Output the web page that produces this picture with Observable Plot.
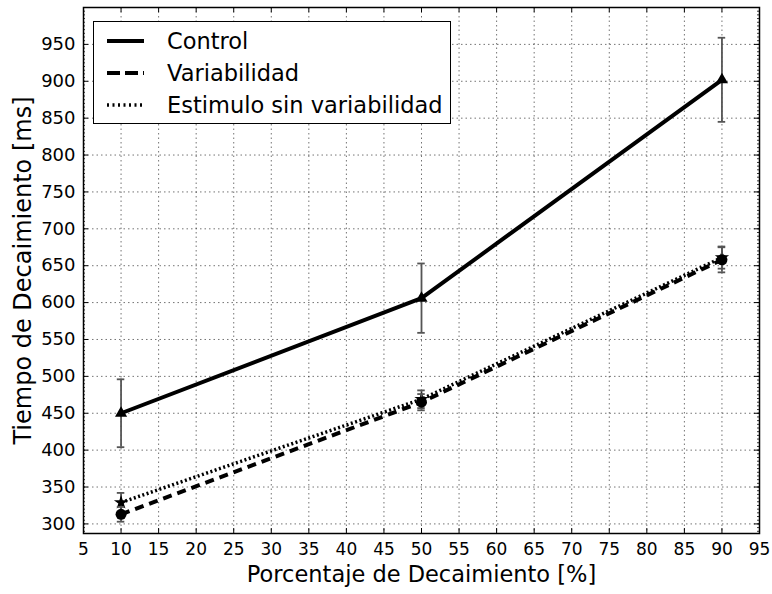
<!DOCTYPE html>
<html>
<head>
<meta charset="utf-8">
<script src="https://cdn.jsdelivr.net/npm/d3@7"></script>
<script src="https://cdn.jsdelivr.net/npm/@observablehq/plot@0.6"></script>
<style>
  html, body { margin: 0; padding: 0; background: #fff; }
  #wrap { position: relative; width: 772px; height: 594px; font-family: "DejaVu Sans", sans-serif; }
  #wrap svg { display: block; }
  g[aria-label="x-axis label"] text { font-size: 22.5px; }
  g[aria-label="y-axis label"] text { font-size: 24px; }
  #legend {
    position: absolute; left: 93px; top: 21px; width: 358px; height: 103px;
    border: 1.5px solid #000; background: #fff; box-sizing: border-box;
    font-size: 22.5px; color: #000;
  }
  #legend .row { position: absolute; left: 0; height: 30px; display: flex; align-items: center; }
  #legend svg { margin-left: 13px; margin-right: 23px; }
</style>
</head>
<body>
<div id="wrap"></div>
<script>
// Decay percentage (x) and decay times in ms with their error bars
const porcentaje = [10, 50, 90];
const control = [450, 606, 902];
const controlErr = [46, 47, 57];
const variabilidad = [313, 465, 658];
const variabilidadErr = [10, 11, 17];
const estimulo = [329, 469, 661];
const estimuloErr = [13, 12, 15];

const xTicks = d3.range(5, 96, 5);
const yTicks = d3.range(300, 951, 50);
const yMinor = d3.range(290, 1000, 5);

const seriesNames = ["Control", "Variabilidad", "Estimulo sin variabilidad"];
// drawing order: the circles of "Variabilidad" sit on top of the stars
const drawOrder = ["Control", "Estimulo sin variabilidad", "Variabilidad"];
const seriesStyle = {
  "Control": {dash: null, width: 4, symbol: "triangle", r: 4.5},
  "Variabilidad": {dash: "9,6", width: 4, symbol: "circle", r: 5.5},
  "Estimulo sin variabilidad": {dash: "2,2.5", width: 3.5, symbol: "star", r: 4.5}
};

function rows(name, values, errs) {
  return porcentaje.map((x, i) => ({serie: name, x, y: values[i], err: errs[i]}));
}
const data = [
  ...rows("Control", control, controlErr),
  ...rows("Variabilidad", variabilidad, variabilidadErr),
  ...rows("Estimulo sin variabilidad", estimulo, estimuloErr)
];

const W = 772, H = 594;
const mL = 83, mR = 13, mT = 7, mB = 61;
const frameW = W - mL - mR, frameH = H - mT - mB;

const marks = [
  // dotted grid
  Plot.gridX(xTicks, {stroke: "#000", strokeOpacity: 0.55, strokeWidth: 1, strokeDasharray: "1.5,3"}),
  Plot.gridY(yTicks, {stroke: "#000", strokeOpacity: 0.55, strokeWidth: 1, strokeDasharray: "1.5,3"}),
  // inward ticks on every side
  Plot.tickX(xTicks, {x: d => d, insetTop: frameH - 5, strokeWidth: 1}),
  Plot.tickX(xTicks, {x: d => d, insetBottom: frameH - 5, strokeWidth: 1}),
  Plot.tickY(yTicks, {y: d => d, insetRight: frameW - 5, strokeWidth: 1}),
  Plot.tickY(yTicks, {y: d => d, insetLeft: frameW - 5, strokeWidth: 1}),
  Plot.tickY(yMinor, {y: d => d, insetRight: frameW - 2, strokeWidth: 0.8}),
  Plot.tickY(yMinor, {y: d => d, insetLeft: frameW - 2, strokeWidth: 0.8}),
  Plot.axisX(xTicks, {tickSize: 0, tickPadding: 9, fontSize: 17, label: "Porcentaje de Decaimiento [%]",
    labelAnchor: "center", labelArrow: "none", labelOffset: 48}),
  Plot.axisY(yTicks, {tickSize: 0, tickPadding: 8, fontSize: 18, label: "Tiempo de Decaimiento [ms]",
    labelAnchor: "center", labelArrow: "none", labelOffset: 70})
];

for (const name of drawOrder) {
  const s = seriesStyle[name];
  const d = data.filter(r => r.serie === name);
  marks.push(
    Plot.line(d, {x: "x", y: "y", stroke: "#000", strokeWidth: s.width, strokeDasharray: s.dash,
      strokeLinejoin: "round", strokeLinecap: "butt"}),
    Plot.ruleX(d, {x: "x", y1: r => r.y - r.err, y2: r => r.y + r.err, stroke: "#555", strokeWidth: 1.8}),
    Plot.ruleY(d, {y: r => r.y - r.err, x1: r => r.x - 0.5, x2: r => r.x + 0.5, stroke: "#555", strokeWidth: 1.8}),
    Plot.ruleY(d, {y: r => r.y + r.err, x1: r => r.x - 0.5, x2: r => r.x + 0.5, stroke: "#555", strokeWidth: 1.8}),
    Plot.dot(d, {x: "x", y: "y", symbol: s.symbol, r: s.r, fill: "#000", stroke: "none"})
  );
}
marks.push(Plot.frame({stroke: "#000", strokeWidth: 1.5}));

const chart = Plot.plot({
  width: W, height: H,
  marginLeft: mL, marginRight: mR, marginTop: mT, marginBottom: mB,
  style: {fontFamily: "DejaVu Sans", color: "#000", background: "#fff"},
  x: {domain: [5, 95]},
  y: {domain: [287, 1000]},
  marks
});

const wrap = document.getElementById("wrap");
wrap.appendChild(chart);

// legend box in the upper left corner of the plot
const legend = document.createElement("div");
legend.id = "legend";
seriesNames.forEach((name, i) => {
  const s = seriesStyle[name];
  const row = document.createElement("div");
  row.className = "row";
  row.style.top = (4 + i * 32) + "px";
  row.innerHTML = `<svg width="37" height="10"><line x1="0" y1="5" x2="37" y2="5" stroke="#000" stroke-width="${s.width}" ${s.dash ? `stroke-dasharray="${name === "Variabilidad" ? "13,5" : "2,3.5"}"` : ""}/></svg><span>${name}</span>`;
  legend.appendChild(row);
});
wrap.appendChild(legend);
</script>
</body>
</html>
